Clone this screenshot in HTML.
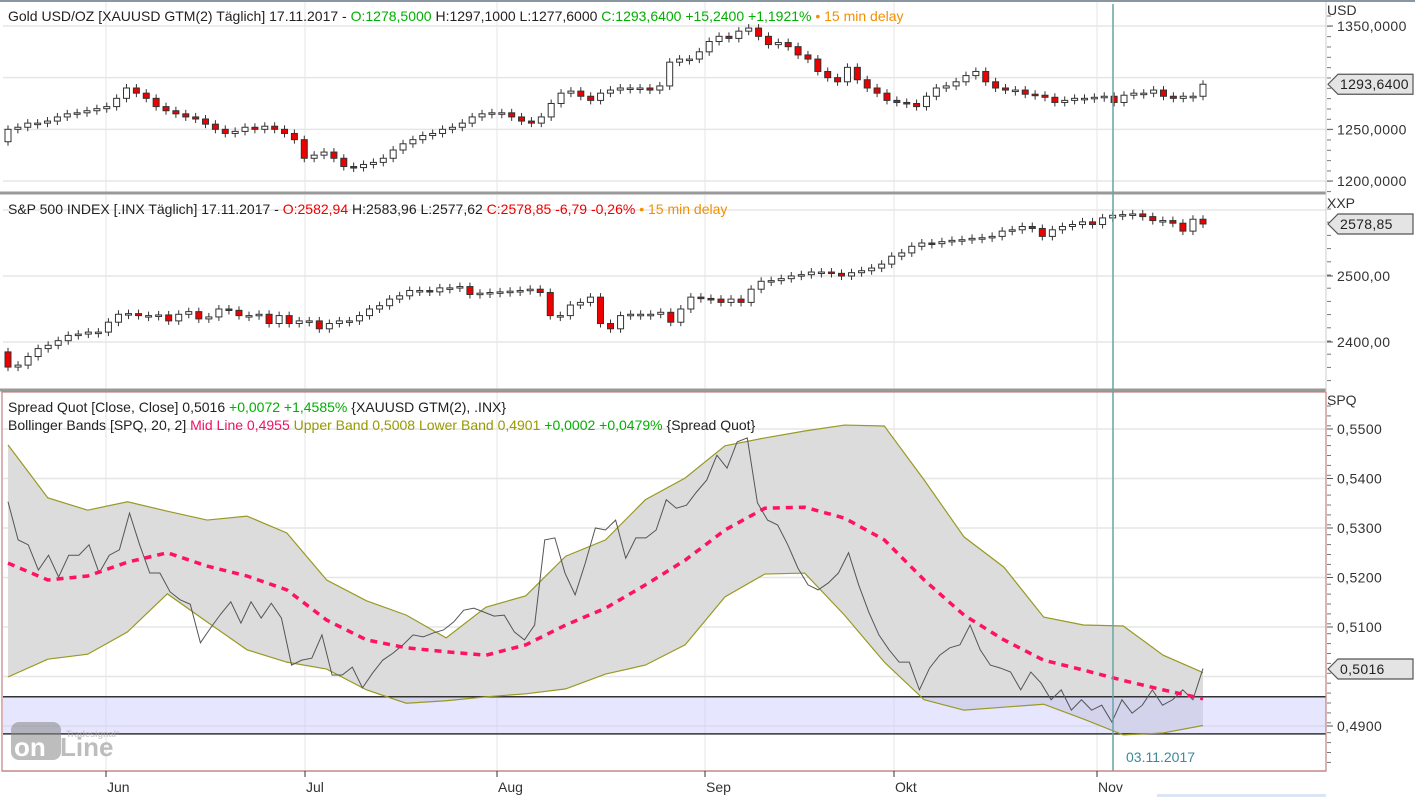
<!DOCTYPE html>
<html><head><meta charset="utf-8">
<style>
html,body{margin:0;padding:0;background:#fff;}
body{width:1415px;height:797px;overflow:hidden;font-family:"Liberation Sans","DejaVu Sans",sans-serif;}
svg{display:block;}
text{font-family:"Liberation Sans","DejaVu Sans",sans-serif;}
</style></head>
<body>
<svg id="chart" width="1415" height="797" xmlns="http://www.w3.org/2000/svg">
<rect x="0" y="0" width="1415" height="797" fill="#fff"/>
<g id="grid"></g>
<g id="marks"></g>
<g id="axes"></g>
</svg>
<script>
// ---------- data ----------
const goldClose=[1250,1252,1256,1256,1258,1262,1265,1266,1268,1270,1272,1280,1290,1285,1280,1272,1268,1265,1262,1260,1255,1250,1246,1248,1252,1250,1253,1250,1246,1240,1222,1225,1228,1222,1214,1213,1216,1218,1222,1230,1236,1240,1244,1246,1250,1252,1256,1262,1265,1266,1266,1262,1258,1256,1262,1275,1285,1287,1282,1278,1285,1288,1290,1290,1290,1288,1292,1315,1318,1318,1325,1335,1340,1338,1345,1348,1340,1332,1334,1330,1322,1318,1306,1300,1296,1310,1298,1290,1285,1278,1276,1275,1272,1282,1290,1292,1296,1302,1306,1296,1290,1288,1288,1284,1283,1281,1276,1278,1280,1280,1281,1282,1276,1283,1285,1285,1288,1282,1280,1282,1282,1293.64];
const goldFirstOpen=1238;
const spxClose=[2362,2365,2378,2390,2395,2402,2410,2412,2415,2415,2430,2442,2443,2440,2440,2441,2432,2442,2446,2435,2438,2450,2448,2440,2440,2442,2428,2440,2428,2432,2432,2420,2428,2432,2432,2440,2450,2455,2465,2470,2478,2478,2476,2482,2482,2484,2472,2474,2475,2476,2477,2478,2480,2475,2440,2440,2456,2460,2468,2428,2420,2440,2442,2442,2442,2445,2430,2450,2468,2466,2465,2460,2465,2460,2480,2492,2493,2496,2500,2502,2506,2506,2504,2500,2505,2508,2512,2518,2530,2535,2545,2550,2549,2552,2554,2555,2557,2558,2560,2568,2570,2575,2572,2560,2570,2575,2578,2582,2578,2588,2592,2593,2594,2590,2584,2584,2580,2568,2586,2578.85];
const spxFirstOpen=2385;
const spread=[0.5353,0.5276,0.5266,0.5215,0.5245,0.5201,0.5245,0.5245,0.5266,0.5209,0.5245,0.5256,0.5330,0.5266,0.5209,0.5209,0.5171,0.5155,0.5146,0.5068,0.5098,0.5126,0.5151,0.5108,0.5151,0.5118,0.5148,0.5118,0.5023,0.5033,0.5037,0.5084,0.5003,0.5003,0.5019,0.4977,0.5007,0.5033,0.5047,0.5064,0.5084,0.5080,0.5088,0.5094,0.5110,0.5134,0.5138,0.5130,0.5122,0.5124,0.5090,0.5074,0.5104,0.5276,0.5280,0.5209,0.5165,0.5229,0.5300,0.5296,0.5316,0.5239,0.5280,0.5280,0.5296,0.5357,0.5340,0.5346,0.5373,0.5397,0.5447,0.5421,0.5474,0.5482,0.5351,0.5316,0.5306,0.5266,0.5219,0.5185,0.5175,0.5189,0.5209,0.5250,0.5185,0.5130,0.5084,0.5054,0.5029,0.5029,0.4973,0.5017,0.5043,0.5058,0.5064,0.5104,0.5054,0.5023,0.5017,0.5009,0.4973,0.5009,0.4987,0.4953,0.4973,0.4932,0.4953,0.4932,0.4942,0.4908,0.4953,0.4926,0.4942,0.4973,0.4942,0.4953,0.4973,0.4953,0.5016];
const bandUpper=[0.5468,0.5361,0.5336,0.5353,0.5334,0.5316,0.5324,0.5290,0.5195,0.5153,0.5124,0.5078,0.5140,0.5163,0.5243,0.5276,0.5357,0.5401,0.5466,0.5482,0.5496,0.5508,0.5506,0.5397,0.5282,0.5221,0.5120,0.5104,0.5102,0.5043,0.5008];
const bandMid=[0.5229,0.5195,0.5203,0.5231,0.5250,0.5223,0.5203,0.5175,0.5114,0.5074,0.5058,0.5050,0.5043,0.5064,0.5104,0.5138,0.5185,0.5235,0.5296,0.5340,0.5342,0.5320,0.5276,0.5195,0.5124,0.5074,0.5033,0.5013,0.4992,0.4973,0.4955];
const bandLower=[0.4999,0.5035,0.5045,0.5090,0.5167,0.5110,0.5054,0.5029,0.5015,0.4973,0.4946,0.4951,0.4959,0.4965,0.4975,0.5005,0.5023,0.5064,0.5161,0.5207,0.5209,0.5124,0.5029,0.4953,0.4932,0.4938,0.4944,0.4914,0.4882,0.4886,0.4901];
const zoneTop=0.4959, zoneBottom=0.4884;
const months=["Jun","Jul","Aug","Sep","Okt","Nov"];
const monthX=[106,305,497,705,894,1097];
const goldTicks=[1350,1300,1250,1200];
const goldTickLabels=["1350,0000","1300,0000","1250,0000","1200,0000"];
const spxTicks=[2600,2500,2400];
const spxTickLabels=["2600,00","2500,00","2400,00"];
const spqTicks=[0.55,0.54,0.53,0.52,0.51,0.50,0.49];
const spqTickLabels=["0,5500","0,5400","0,5300","0,5200","0,5100","0,5000","0,4900"];
const goldLast="1293,6400", spxLast="2578,85", spqLast="0,5016";

// ---------- scales ----------
const PL=3, PR=1326, X0=8, X1=1203;
const yGold=v=>26+(1350-v)*1.0333;
const ySpx=v=>276+(2500-v)*0.66;
const ySpq=v=>429+(0.55-v)*4950;
const xIdx=(i,n)=>X0+i*(X1-X0)/(n-1);
const NS="http://www.w3.org/2000/svg";
function mk(parent,tag,attrs,txt){const e=document.createElementNS(NS,tag);for(const k in attrs)e.setAttribute(k,attrs[k]);if(txt!==undefined)e.textContent=txt;parent.appendChild(e);return e;}
const grid=document.getElementById('grid'),marks=document.getElementById('marks'),axes=document.getElementById('axes');

const panels=[[2,192,goldTicks,yGold],[195,389,spxTicks,ySpx],[392,771,spqTicks,ySpq]];
panels.forEach(([t,b,ticks,ys])=>{
  ticks.forEach(v=>{const y=ys(v);if(y>t&&y<b){const l=mk(grid,'line',{x1:PL,x2:PR,y1:y,y2:y,stroke:'#e6e6e6','stroke-width':1.5});
  
  }});
  monthX.forEach(x=>{const l=mk(grid,'line',{x1:x,x2:x,y1:t,y2:b,stroke:'#e6e6e6','stroke-width':1});
  
  });
});

function candles(closes,firstOpen,ys,name){
  const n=closes.length;
  for(let i=0;i<n;i++){
    const o=i===0?firstOpen:closes[i-1], c=closes[i];
    const x=xIdx(i,n), yo=ys(o), yc=ys(c);
    const top=Math.min(yo,yc), h=Math.max(Math.abs(yo-yc),1.5);
    const g=mk(marks,'g',{});
    
    
    mk(g,'line',{x1:x,x2:x,y1:top-4,y2:top+h+4,stroke:'#333','stroke-width':1});
    mk(g,'rect',{x:x-3,y:top,width:6,height:h,fill:c<o?'#ee0000':'#fff',stroke:'#333','stroke-width':1});
  }
}
candles(goldClose,goldFirstOpen,yGold,'gold');
candles(spxClose,spxFirstOpen,ySpx,'spx');

const nb=bandUpper.length;
let up=bandUpper.map((v,i)=>[xIdx(i,nb),ySpq(v)]);
let lo=bandLower.map((v,i)=>[xIdx(i,nb),ySpq(v)]);
const fill=mk(marks,'path',{d:'M'+up.map(p=>p.join(',')).join('L')+'L'+lo.slice().reverse().map(p=>p.join(',')).join('L')+'Z',fill:'#dcdcdc'});


const zone=mk(marks,'rect',{x:PL,y:ySpq(zoneTop),width:PR-PL,height:ySpq(zoneBottom)-ySpq(zoneTop),fill:'#c8c8ff','fill-opacity':0.45});


[zoneTop,zoneBottom].forEach(v=>{const l=mk(marks,'line',{x1:PL,x2:PR,y1:ySpq(v),y2:ySpq(v),stroke:'#333','stroke-width':1.5});

});
const upL=mk(marks,'polyline',{points:up.map(p=>p.join(',')).join(' '),fill:'none',stroke:'#999922','stroke-width':1.2});


const loL=mk(marks,'polyline',{points:lo.map(p=>p.join(',')).join(' '),fill:'none',stroke:'#999922','stroke-width':1.2});


const spL=mk(marks,'polyline',{points:spread.map((v,i)=>xIdx(i,spread.length)+','+ySpq(v)).join(' '),fill:'none',stroke:'#555','stroke-width':1});


const midL=mk(marks,'polyline',{points:bandMid.map((v,i)=>xIdx(i,nb)+','+ySpq(v)).join(' '),fill:'none',stroke:'#ff1166','stroke-width':3.5,'stroke-dasharray':'7,6'});



[[2,193],[195,390]].forEach(([t,b])=>{mk(axes,'line',{x1:0,x2:1326,y1:b,y2:b,stroke:'#999','stroke-width':3});});
mk(axes,'line',{x1:0,x2:1415,y1:1,y2:1,stroke:'#8a96a0','stroke-width':2});
mk(axes,'rect',{x:2,y:392,width:1324,height:379,fill:'none',stroke:'#c08080','stroke-width':1.2});
mk(axes,'line',{x1:1326,x2:1326,y1:2,y2:392,stroke:'#ccc','stroke-width':1});

const ch=mk(axes,'line',{x1:1113,x2:1113,y1:4,y2:771,stroke:'#6aa3a3','stroke-width':1.5});


const chl=mk(axes,'text',{x:1126,y:762,'font-size':14,fill:'#3a8a9a'},'03.11.2017');



function rightAxis(t,b,ticks,labels,ys,unit,minorStep,name,hideY){
  const u=mk(axes,'text',{x:1327,y:t+13,'font-size':14,fill:'#333'},unit);
  
  
  ticks.forEach((v,i)=>{const y=ys(v);if(y<t+18||y>b-3)return;if(Math.abs(y-hideY)<12)return;
    mk(axes,'line',{x1:1327,x2:1333,y1:y,y2:y,stroke:'#555'});
    const tx=mk(axes,'text',{x:1337,y:y+5,'font-size':14,'letter-spacing':0.4,fill:'#333'},labels[i]);
    
    });
  for(let y=t+14;y<b;y+=minorStep)mk(axes,'line',{x1:1327,x2:1331,y1:y,y2:y,stroke:'#777'});
}
rightAxis(2,192,goldTicks,goldTickLabels,yGold,'USD',10.33,'gold',85);
rightAxis(195,389,spxTicks,spxTickLabels,ySpx,'XXP',13.2,'spx',214);
rightAxis(392,771,spqTicks,spqTickLabels,ySpq,'SPQ',9.9,'spq',669);
function marker(y,label,name){
  const g=mk(axes,'g',{});
  
  
  mk(g,'path',{d:`M1328,${y} L1338,${y-10} L1413,${y-10} L1413,${y+10} L1338,${y+10} Z`,fill:'#e4e4e4',stroke:'#555','stroke-width':1.2});
  mk(g,'text',{x:1340,y:y+5,'font-size':14,'letter-spacing':0.3,fill:'#222'},label);
}
marker(yGold(1293.64),goldLast,'gold');
marker(224,spxLast,'spx');
marker(669,spqLast,'spq');

mk(axes,'line',{x1:2,x2:1326,y1:771,y2:771,stroke:'#c08080','stroke-width':1.2});
months.forEach((m,i)=>{mk(axes,'line',{x1:monthX[i],x2:monthX[i],y1:771,y2:777,stroke:'#333'});
  const t=mk(axes,'text',{x:monthX[i]+1,y:792,'font-size':14,fill:'#333'},m);
  
  });
mk(axes,'rect',{x:1157,y:794,width:169,height:3,fill:'#dbe6f5'});
</script>
<svg style="position:absolute;left:0;top:0" width="1415" height="797">
<text x="8" y="21" font-size="14" fill="#222">Gold USD/OZ [XAUUSD GTM(2) Täglich] 17.11.2017 - <tspan fill="#00b000">O:1278,5000</tspan> H:1297,1000 L:1277,6000 <tspan fill="#00b000">C:1293,6400 +15,2400 +1,1921%</tspan> <tspan fill="#f29000">• 15 min delay</tspan></text>
<text x="8" y="214" font-size="14" fill="#222">S&amp;P 500 INDEX [.INX Täglich] 17.11.2017 - <tspan fill="#ee0000">O:2582,94</tspan> H:2583,96 L:2577,62 <tspan fill="#ee0000">C:2578,85 -6,79 -0,26%</tspan> <tspan fill="#f29000">• 15 min delay</tspan></text>
<text x="8" y="412" font-size="14" fill="#222">Spread Quot [Close, Close] 0,5016 <tspan fill="#00b000">+0,0072 +1,4585%</tspan> {XAUUSD GTM(2), .INX}</text>
<text x="8" y="430" font-size="14" fill="#222">Bollinger Bands [SPQ, 20, 2] <tspan fill="#ee1166">Mid Line 0,4955</tspan> <tspan fill="#999900">Upper Band 0,5008 Lower Band 0,4901</tspan> <tspan fill="#00b000">+0,0002 +0,0479%</tspan> {Spread Quot}</text>
<g opacity="0.55">
<rect x="11" y="722" width="50" height="38" rx="8" fill="#888"/>
<text x="66" y="737" font-size="9" font-weight="bold" fill="#aaa">Tradesignal°</text>
<text x="14" y="756" font-size="26" font-weight="bold" fill="#fff">on</text>
<text x="60" y="756" font-size="26" font-weight="bold" fill="#888">Line</text>
</g>
</svg>
</body></html>
